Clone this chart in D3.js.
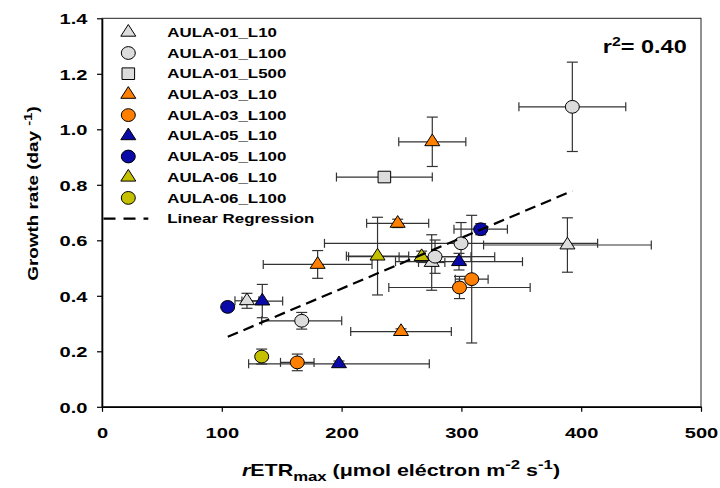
<!DOCTYPE html>
<html><head><meta charset="utf-8">
<script src="https://cdn.jsdelivr.net/npm/d3@7/dist/d3.min.js"></script>
<style>body{margin:0;background:#fff}svg{display:block}</style>
</head><body>
<svg id="c" width="720" height="488"></svg>
<script>
// ---- data ----
const seriesNames = ["AULA-01_L10","AULA-01_L100","AULA-01_L500","AULA-03_L10","AULA-03_L100","AULA-05_L10","AULA-05_L100","AULA-06_L10","AULA-06_L100"];
const seriesShapes = ["triangle","circle","square","triangle","circle","triangle","circle","triangle","circle"];
const seriesColors = ["#dcdcdc","#dcdcdc","#dcdcdc","#ff8000","#ff8000","#0a0aa8","#0a0aa8","#c4c000","#c4c000"];
// each point: [rETRmax, growth rate, rETRmax error, growth rate error]
const aula01_L10  = [[121,0.382,10,0.027],[388.5,0.583,70,0.098],[275.2,0.52,11,0.1]];
const aula01_L100 = [[392.6,1.081,44.6,0.161],[299.7,0.589,114,0.075],[278,0.541,30,0.06],[166.7,0.31,33.4,0.03]];
const aula01_L500 = [[235.7,0.828,40,0.01]];
const aula03_L10  = [[275.7,0.955,28,0.089],[246.8,0.661,25.9,0.015],[180,0.513,45.4,0.05],[249.6,0.271,42,0.01]];
const aula03_L100 = [[163,0.16,14,0.03],[298.4,0.43,59,0.04],[308.6,0.46,13.7,0.23]];
const aula05_L10  = [[133.8,0.381,17,0.06],[298,0.523,53,0.03],[197.8,0.155,75.4,0.01]];
const aula05_L100 = [[104.9,0.36,4,0.01],[316.1,0.64,22.3,0.02]];
const aula06_L10  = [[230,0.543,26,0.14],[266.8,0.541,61,0.02]];
const aula06_L100 = [[133.3,0.181,4,0.027]];
const seriesData = [aula01_L10,aula01_L100,aula01_L500,aula03_L10,aula03_L100,aula05_L10,aula05_L100,aula06_L10,aula06_L100];
const xTicks = [0,100,200,300,400,500];
const yTicks = [0.0,0.2,0.4,0.6,0.8,1.0,1.2,1.4];
const regressionCoef = [0.0603, 0.001828]; // intercept, slope
const regressionRange = [105, 392.6];
const r2Value = "0.40";

// ---- drawing ----
const FONT = "'Liberation Sans', Arial, Helvetica, sans-serif";
const SX = 1.34;
const svg = d3.select("#c");
const x = d3.scaleLinear().domain([0,500]).range([102,701]);
const y = d3.scaleLinear().domain([0,1.4]).range([406.8,18.3]);

// frame
svg.append("rect").attr("x",x(0)).attr("y",y(1.4)).attr("width",x(500)-x(0)).attr("height",y(0)-y(1.4))
  .attr("fill","none").attr("stroke","#222").attr("stroke-width",1);

// axes
const gx = svg.append("g").attr("transform",`translate(0,${y(0)})`)
  .call(d3.axisBottom(x).tickValues(xTicks).tickSize(5).tickSizeOuter(0).tickFormat(d=>d3.format("d")(d)));
gx.select(".domain").attr("stroke","#000").attr("stroke-width",1.6);
gx.selectAll(".tick line").attr("stroke","#000").attr("stroke-width",1.2);
gx.selectAll(".tick text").attr("y",0).attr("dy",0)
  .attr("transform",`translate(0,31) scale(${SX},1)`)
  .attr("font-family",FONT).attr("font-weight","bold").attr("font-size",15).attr("fill","#000");

const gy = svg.append("g").attr("transform",`translate(${x(0)},0)`)
  .call(d3.axisLeft(y).tickValues(yTicks).tickSize(5).tickSizeOuter(0).tickFormat(d3.format(".1f")));
gy.select(".domain").attr("stroke","#000").attr("stroke-width",1.6);
gy.selectAll(".tick line").attr("stroke","#000").attr("stroke-width",1.2);
gy.selectAll(".tick text").attr("x",0).attr("dy","0.36em")
  .attr("transform",`translate(-14.5,0) scale(${SX},1)`)
  .attr("font-family",FONT).attr("font-weight","bold").attr("font-size",15).attr("fill","#000");

// marker path generator
function markerPath(shape){
  if(shape==="triangle") return "M0,-7.8 L7.5,3.9 L-7.5,3.9 Z";
  if(shape==="square") return "M-6.3,-5.8 H6.3 V5.8 H-6.3 Z";
  return null;
}
function drawMarker(g, shape, color, cx, cy){
  if(shape==="circle"){
    g.append("ellipse").attr("cx",cx).attr("cy",cy).attr("rx",7).attr("ry",6.4)
      .attr("fill",color).attr("stroke","#000").attr("stroke-width",1);
  } else {
    g.append("path").attr("d",markerPath(shape)).attr("transform",`translate(${cx},${cy})`)
      .attr("fill",color).attr("stroke","#000").attr("stroke-width",1);
  }
}

// error bars
const eg = svg.append("g").attr("stroke","#333").attr("stroke-width",1.2);
seriesData.forEach(pts=>{
  pts.forEach(([vx,vy,ex,ey])=>{
    const px=x(vx), py=y(vy), x1=x(vx-ex), x2=x(vx+ex), y1=y(vy+ey), y2=y(vy-ey);
    eg.append("line").attr("x1",x1).attr("x2",x2).attr("y1",py).attr("y2",py);
    eg.append("line").attr("x1",x1).attr("x2",x1).attr("y1",py-4.5).attr("y2",py+4.5);
    eg.append("line").attr("x1",x2).attr("x2",x2).attr("y1",py-4.5).attr("y2",py+4.5);
    eg.append("line").attr("x1",px).attr("x2",px).attr("y1",y1).attr("y2",y2);
    eg.append("line").attr("x1",px-5.5).attr("x2",px+5.5).attr("y1",y1).attr("y2",y1);
    eg.append("line").attr("x1",px-5.5).attr("x2",px+5.5).attr("y1",y2).attr("y2",y2);
  });
});

// markers
const mg = svg.append("g");
seriesData.forEach((pts,i)=>{
  pts.forEach(([vx,vy])=>drawMarker(mg, seriesShapes[i], seriesColors[i], x(vx), y(vy)));
});

// regression line
svg.append("line")
  .attr("x1",x(regressionRange[0])).attr("y1",y(regressionCoef[0]+regressionCoef[1]*regressionRange[0]))
  .attr("x2",x(regressionRange[1])).attr("y2",y(regressionCoef[0]+regressionCoef[1]*regressionRange[1]))
  .attr("stroke","#000").attr("stroke-width",2.2).attr("stroke-dasharray","11,6");

// legend
const lg = svg.append("g");
seriesNames.forEach((name,i)=>{
  const ry = 32.3 + i*20.7;
  drawMarker(lg, seriesShapes[i], seriesColors[i], 128.3, ry);
  lg.append("text").attr("transform",`translate(167.3,${ry+4.6}) scale(${SX},1)`)
    .attr("font-family",FONT).attr("font-weight","bold").attr("font-size",12.6).attr("fill","#000").text(name);
});
const lry = 32.3 + seriesNames.length*20.7;
lg.append("line").attr("x1",103.5).attr("x2",148.3).attr("y1",lry).attr("y2",lry)
  .attr("stroke","#000").attr("stroke-width",2.2).attr("stroke-dasharray","12,8");
lg.append("text").attr("transform",`translate(167.3,${lry+4.6}) scale(${SX},1)`)
  .attr("font-family",FONT).attr("font-weight","bold").attr("font-size",12.6).attr("fill","#000").text("Linear Regression");

// r^2 annotation
const r2 = svg.append("text").attr("transform",`translate(686.7,52.7) scale(1.27,1)`)
  .attr("text-anchor","end").attr("font-family",FONT).attr("font-weight","bold").attr("font-size",18.5).attr("fill","#000");
r2.append("tspan").text("r");
r2.append("tspan").attr("dy",-7).attr("font-size",12.5).text("2");
r2.append("tspan").attr("dy",7).text("= " + r2Value);

// x axis title
const xt = svg.append("text").attr("transform",`translate(401,476) scale(1.34,1)`)
  .attr("text-anchor","middle").attr("font-family",FONT).attr("font-weight","bold").attr("font-size",16).attr("fill","#000");
xt.append("tspan").attr("font-style","italic").text("r");
xt.append("tspan").text("ETR");
xt.append("tspan").attr("dy",5).attr("font-size",12.5).text("max");
xt.append("tspan").attr("dy",-5).text(" (\u03bcmol eléctron m");
xt.append("tspan").attr("dy",-7).attr("font-size",12.5).text("-2");
xt.append("tspan").attr("dy",7).text(" s");
xt.append("tspan").attr("dy",-7).attr("font-size",12.5).text("-1");
xt.append("tspan").attr("dy",7).text(")");

// y axis title
const yt = svg.append("text").attr("transform",`translate(37.5,193.5) rotate(-90) scale(1.3,1)`)
  .attr("text-anchor","middle").attr("font-family",FONT).attr("font-weight","bold").attr("font-size",14.5).attr("fill","#000");
yt.append("tspan").text("Growth rate (day ");
yt.append("tspan").attr("dy",-6).attr("font-size",11.5).text("-1");
yt.append("tspan").attr("dy",6).text(")");
</script>
</body></html>
